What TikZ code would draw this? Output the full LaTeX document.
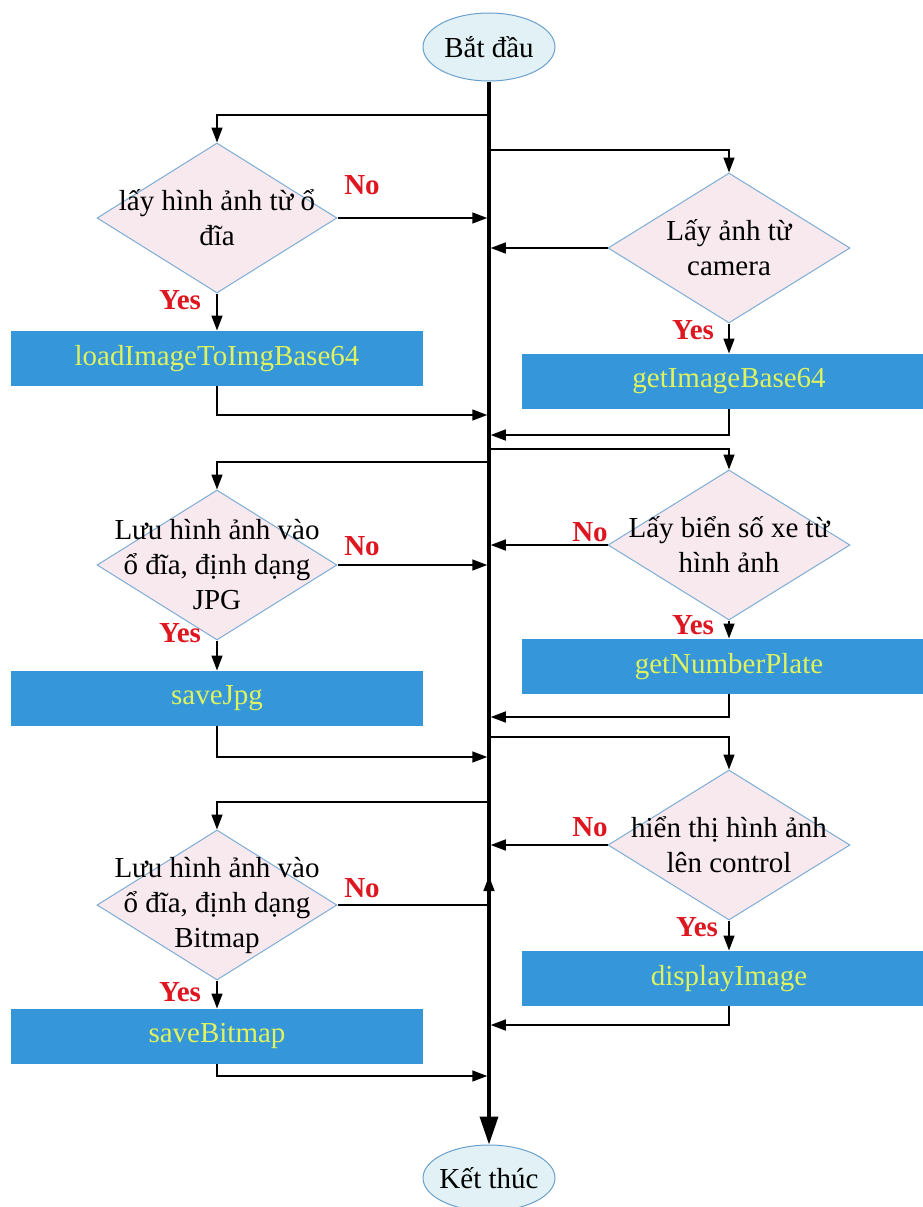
\documentclass[tikz,border=0pt]{standalone}
\usepackage{fontspec}
\setmainfont{Liberation Serif}
\usepackage{xcolor}
\usetikzlibrary{arrows.meta,positioning,shapes.geometric}

\definecolor{taskblue}{RGB}{53,150,218}
\definecolor{tasktext}{RGB}{222,243,95}
\definecolor{condfill}{RGB}{247,233,238}
\definecolor{conddraw}{RGB}{125,172,212}
\definecolor{termfill}{RGB}{226,241,245}
\definecolor{termdraw}{RGB}{105,160,205}
\definecolor{labred}{RGB}{222,22,32}

\begin{document}
\begin{tikzpicture}[
  x=1pt, y=-1pt,
  font=\fontsize{29}{35}\selectfont,
  term/.style={
    ellipse, draw=termdraw, fill=termfill, line width=1pt,
    minimum width=132pt, minimum height=68pt, inner sep=0pt
  },
  cond/.style={
    diamond, draw=conddraw, fill=condfill, line width=1pt,
    minimum width=240pt, minimum height=150pt, inner sep=0pt
  },
  task/.style={
    rectangle, fill=taskblue, text=tasktext,
    minimum width=412pt, minimum height=55pt, inner sep=0pt
  },
  arr/.style={-{Triangle[length=15pt, width=11pt]}, line width=1.5pt, shorten >=1.75pt},
  trunk/.style={-{Triangle[length=28pt, width=18pt]}, line width=3.5pt},
  lab/.style={font=\fontsize{29}{35}\selectfont\bfseries, text=labred, inner sep=0pt}
]
  \useasboundingbox (0,0) rectangle (923,1207);

  \node[term] (S) at (489,47) {Bắt đầu};
  \node[term, minimum height=66pt, inner xsep=-3pt] (E) at (489,1178) {Kết thúc};

  % left column
  \node[cond, label={[align=center]center:{lấy hình ảnh từ ổ\\đĩa}}] (D1) at (217,218) {};
  \node[task, below=37pt of D1] (P1) {loadImageToImgBase64};
  \node[cond, label={[align=center]center:{Lưu hình ảnh vào\\ổ đĩa, định dạng\\JPG}}] (D3) at (217,565) {};
  \node[task, below=30pt of D3] (P3) {saveJpg};
  \node[cond, label={[align=center]center:{Lưu hình ảnh vào\\ổ đĩa, định dạng\\Bitmap}}] (D6) at (217,905) {};
  \node[task, below=28pt of D6] (P6) {saveBitmap};

  % right column
  \node[cond, minimum width=242pt, label={[align=center]center:{Lấy ảnh từ\\camera}}] (D2) at (729,248) {};
  \node[task, minimum width=414pt, below=30pt of D2] (P2) {getImageBase64};
  \node[cond, minimum width=242pt, label={[align=center]center:{Lấy biển số xe từ\\hình ảnh}}] (D4) at (729,545) {};
  \node[task, minimum width=414pt, below=18pt of D4] (P4) {getNumberPlate};
  \node[cond, minimum width=242pt, label={[align=center]center:{hiển thị hình ảnh\\lên control}}] (D5) at (729,845) {};
  \node[task, minimum width=414pt, below=30pt of D5] (P5) {displayImage};

  % junctions on the trunk
  \foreach \n/\y in {o1/115, o2/150, r1/415, r2/435, o4/449, o3/462, r4/717,
                     o5/737, r3/757, o6/802, u6/876, r5/1025, r6/1076}
    \coordinate (\n) at (489,\y);

  \node[lab] (n1) at (362,185) {No};
  \node[lab] (y1) at (180,300) {Yes};
  \node[lab] (y2) at (693,330) {Yes};
  \node[lab] (n3) at (362,546) {No};
  \node[lab] (y3) at (180,633) {Yes};
  \node[lab] (n4) at (590,532) {No};
  \node[lab] (y4) at (693,625) {Yes};
  \node[lab] (n5) at (590,827) {No};
  \node[lab] (y5) at (697,927) {Yes};
  \node[lab] (n6) at (362,888) {No};
  \node[lab] (y6) at (180,992) {Yes};

  \draw[trunk] (S) -- (E);

  \draw[arr, shorten >=0pt] (o1) -| (D1.north);
  \draw[arr] (D1.east) -- (D1.east -| S);
  \draw[arr, shorten >=0pt] (D1.south) -- (P1.north);
  \draw[arr] (P1.south) |- (r1);

  \draw[arr, shorten >=0pt] (o2) -| (D2.north);
  \draw[arr] (D2.west) -- (D2.west -| S);
  \draw[arr, shorten >=0pt] (D2.south) -- (P2.north);
  \draw[arr] (P2.south) |- (r2);

  \draw[arr, shorten >=0pt] (o3) -| (D3.north);
  \draw[arr] (D3.east) -- (D3.east -| S);
  \draw[arr, shorten >=0pt] (D3.south) -- (P3.north);
  \draw[arr] (P3.south) |- (r3);

  \draw[arr, shorten >=0pt] (o4) -| (D4.north);
  \draw[arr] (D4.west) -- (D4.west -| S);
  \draw[arr, shorten >=0pt] (D4.south) -- (P4.north);
  \draw[arr] (P4.south) |- (r4);

  \draw[arr, shorten >=0pt] (o5) -| (D5.north);
  \draw[arr] (D5.west) -- (D5.west -| S);
  \draw[arr, shorten >=0pt] (D5.south) -- (P5.north);
  \draw[arr] (P5.south) |- (r5);

  \draw[arr, shorten >=0pt] (o6) -| (D6.north);
  \draw[arr, shorten >=0pt] (D6.east) -| (u6);
  \draw[arr, shorten >=0pt] (D6.south) -- (P6.north);
  \draw[arr] (P6.south) |- (r6);
\end{tikzpicture}
\end{document}
